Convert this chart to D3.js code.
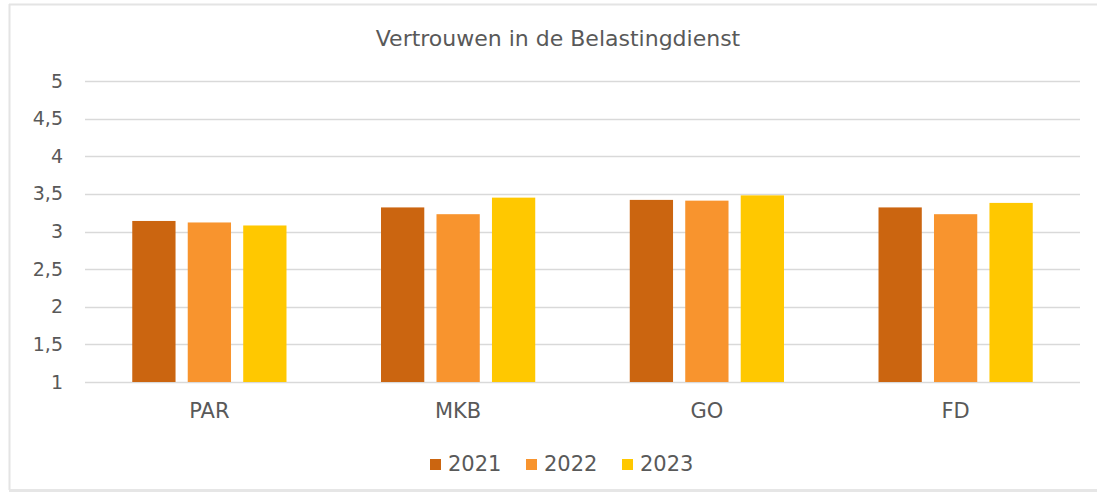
<!DOCTYPE html>
<html>
<head>
<meta charset="utf-8">
<script src="https://cdn.jsdelivr.net/npm/d3@7"></script>
<style>
  body { margin: 0; background: #fff; }
  #chart { width: 1097px; height: 499px; }
  text { font-family: "DejaVu Sans", Verdana, sans-serif; fill: #595959; }
</style>
</head>
<body>
<div id="chart"></div>
<script>
var categories = ['PAR', 'MKB', 'GO', 'FD'];
var years = ['2021', '2022', '2023'];
var values2021 = [3.14, 3.32, 3.42, 3.32];
var values2022 = [3.12, 3.23, 3.41, 3.23];
var values2023 = [3.08, 3.45, 3.48, 3.38];
var yTicks = [1, 1.5, 2, 2.5, 3, 3.5, 4, 4.5, 5];
var title = 'Vertrouwen in de Belastingdienst';

var colors = { '2021': '#CB6510', '2022': '#F8942E', '2023': '#FFC800' };
var seriesValues = { '2021': values2021, '2022': values2022, '2023': values2023 };

var totalWidth = 1097, totalHeight = 499;
var margin = { top: 81, right: 17, bottom: 117, left: 85 };
var width = totalWidth - margin.left - margin.right;
var height = totalHeight - margin.top - margin.bottom;

var root = d3.select('#chart').append('svg')
  .attr('width', totalWidth)
  .attr('height', totalHeight);

// outer frame (light gray)
root.append('line').attr('x1', 9.5).attr('x2', 9.5).attr('y1', 4).attr('y2', 490)
  .attr('stroke', '#e4e4e4').attr('stroke-width', 2);
root.append('line').attr('x1', 9).attr('x2', 1097).attr('y1', 4.5).attr('y2', 4.5)
  .attr('stroke', '#e4e4e4').attr('stroke-width', 2);
root.append('line').attr('x1', 9).attr('x2', 1097).attr('y1', 490.5).attr('y2', 490.5)
  .attr('stroke', '#e6e6e6').attr('stroke-width', 3);

root.append('text')
  .attr('x', 558).attr('y', 46)
  .attr('text-anchor', 'middle')
  .style('font-size', '22px')
  .text(title);

var svg = root.append('g')
  .attr('transform', 'translate(' + margin.left + ',' + margin.top + ')');

var x0 = d3.scaleBand().domain(categories).range([0, width]).paddingInner(0.38).paddingOuter(0.19);
var x1 = d3.scaleBand().domain(years).range([0, x0.bandwidth()]).paddingInner(0.22).paddingOuter(0);
var y = d3.scaleLinear().domain([1, 5]).range([height, 0]);

// gridlines
svg.append('g')
  .selectAll('line')
  .data(yTicks)
  .enter().append('line')
  .attr('x1', 0).attr('x2', width)
  .attr('y1', function(d){ return Math.round(y(d)) + 0.5; })
  .attr('y2', function(d){ return Math.round(y(d)) + 0.5; })
  .attr('stroke', '#d9d9d9')
  .attr('stroke-width', 1.5);

// y axis labels
var yAxis = d3.axisLeft(y).tickValues(yTicks)
  .tickFormat(function(d){ return String(d).replace('.', ','); })
  .tickSize(0).tickPadding(22);
var yG = svg.append('g').call(yAxis);
yG.select('.domain').remove();
yG.selectAll('text').style('font-size', '19px').attr('fill', '#595959')
  .style('font-family', '"DejaVu Sans", Verdana, sans-serif');

// bars
var groups = svg.append('g').selectAll('g')
  .data(categories)
  .enter().append('g')
  .attr('transform', function(d){ return 'translate(' + x0(d) + ',0)'; });

groups.selectAll('rect')
  .data(function(c, i){ return years.map(function(yr){ return { year: yr, value: seriesValues[yr][i] }; }); })
  .enter().append('rect')
  .attr('x', function(d){ return x1(d.year); })
  .attr('width', x1.bandwidth())
  .attr('y', function(d){ return y(d.value); })
  .attr('height', function(d){ return y(1) - y(d.value); })
  .attr('fill', function(d){ return colors[d.year]; });

// x axis labels
var xAxis = d3.axisBottom(x0).tickSize(0).tickPadding(21);
var xG = svg.append('g').attr('transform', 'translate(0,' + height + ')').call(xAxis);
xG.select('.domain').remove();
xG.selectAll('text').style('font-size', '21px').attr('fill', '#595959')
  .style('font-family', '"DejaVu Sans", Verdana, sans-serif');

// legend
var legend = root.append('g').attr('transform', 'translate(430,464)');
var legendX = d3.scalePoint().domain(years).range([0, 192]);
var items = legend.selectAll('g').data(years).enter().append('g')
  .attr('transform', function(d){ return 'translate(' + legendX(d) + ',0)'; });
items.append('rect')
  .attr('x', 0).attr('y', -5).attr('width', 11).attr('height', 11)
  .attr('fill', function(d){ return colors[d]; });
items.append('text')
  .attr('x', 18).attr('y', 0)
  .attr('dominant-baseline', 'central')
  .style('font-size', '21px')
  .text(function(d){ return d; });
</script>
</body>
</html>
